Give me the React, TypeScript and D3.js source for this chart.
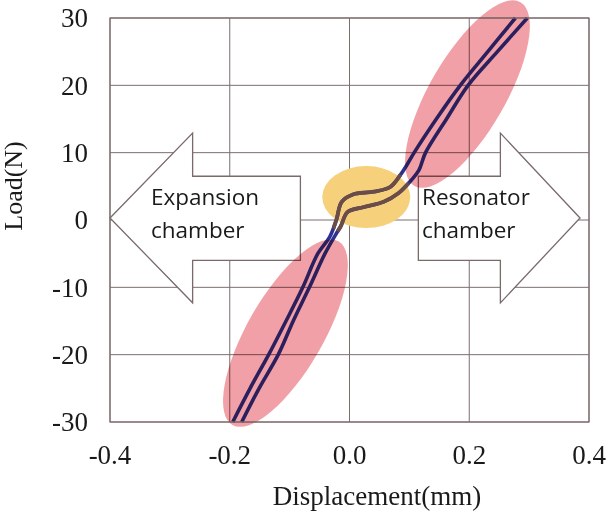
import React from 'react';
import * as d3 from 'd3';

// tick values
const xTicks = [-0.4, -0.2, 0.0, 0.2, 0.4];
const yTicks = [-30, -20, -10, 0, 10, 20, 30];

// left / upper branch of the loop (displacement mm, load N)
const branchA = [
  [-0.195, -30], [-0.166, -25], [-0.135, -20], [-0.106, -15], [-0.078, -10],
  [-0.053, -5], [-0.033, -2.5], [-0.022, 0], [-0.013, 2.7], [0.006, 3.8],
  [0.04, 4.2], [0.068, 4.9], [0.085, 6.7], [0.098, 8.5], [0.108, 10],
  [0.145, 15], [0.185, 20], [0.231, 25], [0.277, 30],
];

// right / lower branch
const branchB = [
  [-0.18, -30], [-0.151, -25], [-0.119, -20], [-0.094, -15], [-0.067, -10],
  [-0.041, -5], [-0.022, -2], [-0.015, -1], [-0.003, 1.2], [0.023, 1.9],
  [0.057, 2.7], [0.082, 4.0], [0.103, 5.9], [0.116, 7.4], [0.127, 10],
  [0.162, 15], [0.198, 20], [0.247, 25], [0.297, 30],
];

// arrow outlines in data units
const leftArrow = [
  [-0.4, 0.3], [-0.262, 12.9], [-0.262, 6.5], [-0.082, 6.5],
  [-0.082, -6], [-0.262, -6], [-0.262, -12.3],
];
const rightArrow = [
  [0.385, 0.3], [0.252, 12.9], [0.252, 6.5], [0.115, 6.5],
  [0.115, -6], [0.252, -6], [0.252, -12.3],
];

// highlighted regions: centre in data units
const pinkZones = [[0.197, 18.7], [-0.107, -16.8]];
const yellowZone = [0.028, 3.4];

const W = 606;
const H = 513;

export default function App() {
  const x = d3.scaleLinear().domain([-0.4, 0.4]).range([110, 589]);
  const y = d3.scaleLinear().domain([-30, 30]).range([422, 18]);

  const line = d3.line<number[]>()
    .x(d => x(d[0]))
    .y(d => y(d[1]))
    .curve(d3.curveCatmullRom);

  const poly = (pts: number[][]) => 'M' + pts.map(p => x(p[0]) + ',' + y(p[1])).join('L') + 'Z';

  const grid = '#7d6e6e';
  const serif = '"Liberation Serif", "Times New Roman", serif';
  const sans = '"Open Sans", "Noto Sans", sans-serif';

  return (
    <svg width={W} height={H} style={{ position: 'absolute', left: 0, top: 0, background: '#fff' }}>
      <defs>
        <clipPath id="mid-clip">
          <ellipse cx={x(yellowZone[0])} cy={y(yellowZone[1]) + 4} rx={48} ry={38} />
        </clipPath>
      </defs>

      {/* grid */}
      {xTicks.map(t => (
        <line key={'gx' + t} x1={x(t)} x2={x(t)} y1={y(30)} y2={y(-30)} stroke={grid} strokeWidth={1} />
      ))}
      {yTicks.map(t => (
        <line key={'gy' + t} x1={x(-0.4)} x2={x(0.4)} y1={y(t)} y2={y(t)} stroke={grid} strokeWidth={1} />
      ))}

      {/* arrows */}
      <path d={poly(leftArrow)} fill="#fff" stroke="#7a6a6a" strokeWidth={1.3} />
      <path d={poly(rightArrow)} fill="#fff" stroke="#7a6a6a" strokeWidth={1.3} />

      <g fontFamily={sans} fontSize={22.5} fill="#1a1a1a">
        <text x={151} y={205}>Expansion</text>
        <text x={151} y={238}>chamber</text>
        <text x={422} y={205}>Resonator</text>
        <text x={422} y={238}>chamber</text>
      </g>

      {/* yellow zone */}
      <ellipse cx={x(yellowZone[0])} cy={y(yellowZone[1])} rx={44} ry={31} fill="#f6d07a" />

      {/* loop */}
      <path d={line(branchA) || ''} fill="none" stroke="#2e3190" strokeWidth={3.6} />
      <path d={line(branchB) || ''} fill="none" stroke="#2e3190" strokeWidth={3.6} />
      <g clipPath="url(#mid-clip)">
        <path d={line(branchA) || ''} fill="none" stroke="#6b4c47" strokeWidth={3.8} />
        <path d={line(branchB) || ''} fill="none" stroke="#6b4c47" strokeWidth={3.8} />
      </g>

      {/* pink zones */}
      {pinkZones.map((c, i) => (
        <ellipse key={'pz' + i} cx={0} cy={0} rx={106} ry={38}
          transform={`translate(${x(c[0])},${y(c[1])}) rotate(-60)`}
          fill="#ef969c" style={{ mixBlendMode: 'multiply' }} opacity={0.9} />
      ))}

      {/* frame */}
      <rect x={x(-0.4)} y={y(30)} width={x(0.4) - x(-0.4)} height={y(-30) - y(30)} fill="none" stroke={grid} strokeWidth={1.2} />

      {/* tick labels */}
      <g fontFamily={serif} fontSize={27} fill="#1a1a1a">
        {yTicks.map(t => (
          <text key={'ty' + t} x={88} y={y(t)} dy="0.35em" textAnchor="end">{t}</text>
        ))}
        {xTicks.map(t => (
          <text key={'tx' + t} x={x(t)} y={464} textAnchor="middle">{t.toFixed(1)}</text>
        ))}
        <text x={377} y={505} textAnchor="middle">Displacement(mm)</text>
        <text transform="translate(22,186) rotate(-90)" textAnchor="middle" fontSize={26}>Load(N)</text>
      </g>
    </svg>
  );
}
